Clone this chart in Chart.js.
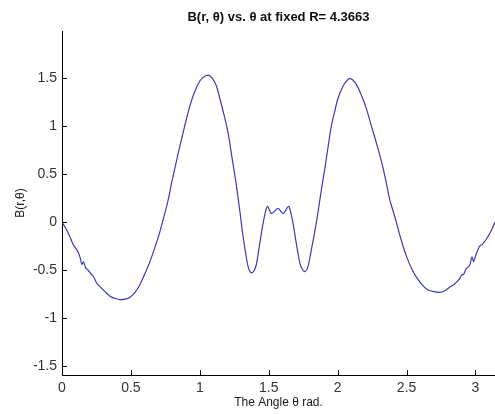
<!DOCTYPE html>
<html>
<head>
<meta charset="utf-8">
<title>B(r, θ) vs. θ</title>
<script src="https://cdn.jsdelivr.net/npm/chart.js@4/dist/chart.umd.min.js"></script>
<style>
  html, body { margin: 0; padding: 0; background: #ffffff; }
  #wrap { width: 495px; height: 414px; }
</style>
</head>
<body>
<div id="wrap"><canvas id="c" width="495" height="414"></canvas></div>
<script>
// Angle θ (rad) sampled along the curve
const theta = [
  0.00, 0.03, 0.06, 0.08, 0.10, 0.12, 0.13, 0.145, 0.155, 0.17,
  0.19, 0.215, 0.23, 0.25, 0.275, 0.31, 0.348, 0.38, 0.42, 0.46,
  0.493, 0.53, 0.565, 0.60, 0.638, 0.67, 0.71, 0.74, 0.77, 0.80,
  0.855, 0.89, 0.928, 0.96, 1.00, 1.03, 1.06, 1.09, 1.12, 1.145,
  1.175, 1.205, 1.235, 1.266, 1.29, 1.31, 1.33, 1.35, 1.375, 1.395,
  1.41, 1.435, 1.459, 1.475, 1.49, 1.52, 1.567, 1.604, 1.645, 1.66,
  1.676, 1.70, 1.725, 1.74, 1.76, 1.785, 1.81, 1.835, 1.857, 1.88,
  1.906, 1.93, 1.954, 1.98, 2.00, 2.04, 2.065, 2.087, 2.11, 2.135,
  2.17, 2.21, 2.245, 2.28, 2.32, 2.353, 2.377, 2.41, 2.437, 2.46,
  2.498, 2.546, 2.58, 2.618, 2.65, 2.69, 2.74, 2.78, 2.81, 2.85,
  2.884, 2.90, 2.915, 2.93, 2.96, 2.975, 2.985, 3.00, 3.03, 3.05,
  3.077, 3.11, 3.1416
];

// Field value B(r, θ) at R = 4.3663
const bValues = [
  0.00, -0.07, -0.16, -0.23, -0.27, -0.32, -0.36, -0.44, -0.41, -0.47,
  -0.50, -0.545, -0.57, -0.63, -0.67, -0.72, -0.77, -0.79, -0.805, -0.80,
  -0.78, -0.73, -0.65, -0.54, -0.41, -0.28, -0.10, 0.06, 0.23, 0.44,
  0.79, 1.00, 1.21, 1.35, 1.47, 1.515, 1.53, 1.50, 1.42, 1.29,
  1.12, 0.93, 0.66, 0.375, 0.12, -0.11, -0.30, -0.46, -0.527, -0.50,
  -0.44, -0.22, -0.01, 0.10, 0.165, 0.09, 0.145, 0.09, 0.165, 0.10,
  -0.01, -0.22, -0.42, -0.48, -0.515, -0.46, -0.28, -0.09, 0.10, 0.32,
  0.55, 0.78, 1.00, 1.16, 1.28, 1.417, 1.47, 1.494, 1.48, 1.434,
  1.33, 1.174, 1.00, 0.83, 0.62, 0.41, 0.24, 0.08, -0.06, -0.18,
  -0.35, -0.51, -0.59, -0.66, -0.70, -0.72, -0.73, -0.71, -0.68, -0.64,
  -0.59, -0.55, -0.54, -0.49, -0.44, -0.36, -0.41, -0.35, -0.25, -0.23,
  -0.18, -0.10, 0.00
];

// Tick positions on each axis
const xTicks = [0, 0.5, 1, 1.5, 2, 2.5, 3];
const yTicks = [-1.5, -1, -0.5, 0, 0.5, 1, 1.5];

const points = theta.map((t, i) => ({ x: t, y: bValues[i] }));

// Plain number labels: 1 rather than 1.0
const plainLabel = v => String(Math.round(v * 100) / 100);

// Inward tick marks (drawn from the scales' own tick values) and axis titles
const axisDecor = {
  id: 'axisDecor',
  afterDraw(chart) {
    const { ctx, chartArea, scales } = chart;
    const len = 5;
    ctx.save();
    ctx.strokeStyle = '#000000';
    ctx.lineWidth = 1;
    ctx.beginPath();
    scales.x.ticks.forEach(t => {
      const px = Math.round(scales.x.getPixelForValue(t.value)) + 0.5;
      ctx.moveTo(px, chartArea.bottom);
      ctx.lineTo(px, chartArea.bottom - len);
    });
    scales.y.ticks.forEach(t => {
      const py = Math.round(scales.y.getPixelForValue(t.value)) + 0.5;
      ctx.moveTo(chartArea.left, py);
      ctx.lineTo(chartArea.left + len, py);
    });
    ctx.stroke();

    ctx.fillStyle = '#1a1a1a';
    ctx.font = '12px "Liberation Sans", Arial, sans-serif';
    ctx.textAlign = 'center';
    ctx.textBaseline = 'middle';
    ctx.fillText('The Angle θ rad.', (chartArea.left + chartArea.right) / 2, 403);

    ctx.translate(21, (chartArea.top + chartArea.bottom) / 2);
    ctx.rotate(-Math.PI / 2);
    ctx.fillText('B(r,θ)', 0, 0);
    ctx.restore();
  }
};

new Chart(document.getElementById('c'), {
  type: 'scatter',
  data: {
    datasets: [{
      data: points,
      showLine: true,
      borderColor: '#3b3bb3',
      borderWidth: 1.2,
      pointRadius: 0,
      cubicInterpolationMode: 'monotone',
      fill: false
    }]
  },
  options: {
    responsive: false,
    animation: false,
    events: [],
    layout: { padding: 0 },
    plugins: {
      legend: { display: false },
      tooltip: { enabled: false },
      title: {
        display: true,
        text: 'B(r, θ) vs. θ at fixed R= 4.3663',
        fullSize: false,
        color: '#111111',
        font: { family: '"Liberation Sans", Arial, sans-serif', size: 13, weight: 'bold', lineHeight: 1.2 },
        padding: { top: 10, bottom: 5.4 }
      }
    },
    scales: {
      x: {
        type: 'linear',
        min: 0,
        max: Math.PI,
        afterFit(scale) { scale.height = 39; },
        afterBuildTicks(scale) { scale.ticks = xTicks.map(v => ({ value: v })); },
        grid: { display: false, drawTicks: false },
        border: { display: true, color: '#000000', width: 1 },
        ticks: {
          padding: 5,
          color: '#333333',
          font: { family: '"Liberation Sans", Arial, sans-serif', size: 14 },
          maxRotation: 0,
          autoSkip: false,
          callback: plainLabel
        }
      },
      y: {
        type: 'linear',
        min: -1.59,
        max: 1.99,
        afterFit(scale) { scale.width = 62; },
        afterBuildTicks(scale) { scale.ticks = yTicks.map(v => ({ value: v })); },
        grid: { display: false, drawTicks: false },
        border: { display: true, color: '#000000', width: 1 },
        ticks: {
          padding: 5,
          color: '#333333',
          font: { family: '"Liberation Sans", Arial, sans-serif', size: 14 },
          autoSkip: false,
          callback: plainLabel
        }
      }
    }
  },
  plugins: [axisDecor]
});
</script>
</body>
</html>
